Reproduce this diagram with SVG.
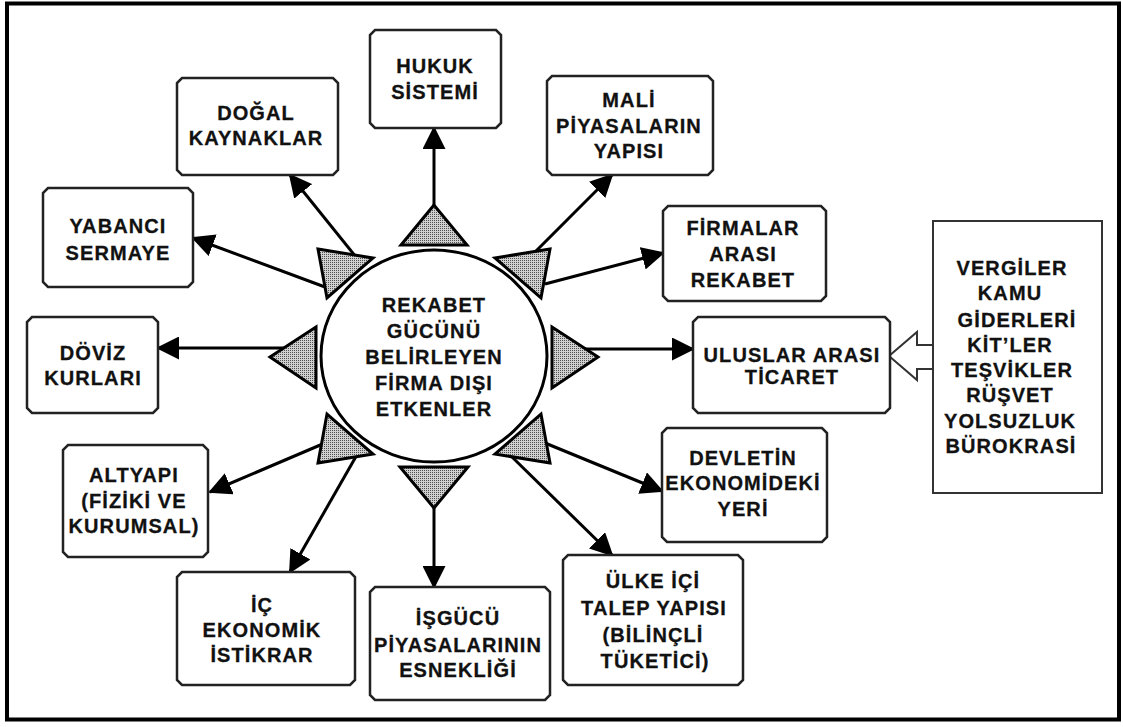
<svg xmlns="http://www.w3.org/2000/svg" width="1123" height="727" viewBox="0 0 1123 727">
<style>
.t{font-family:"Liberation Sans",Arial,sans-serif;font-weight:bold;font-size:20px;letter-spacing:1.1px;text-anchor:middle;fill:#111;stroke:#111;stroke-width:0.3}
.box{fill:#fff;stroke:#222;stroke-width:2.5}
.con{stroke:#000;stroke-width:3;fill:none;marker-end:url(#ah)}
.tri{fill:url(#dots);stroke:#000;stroke-width:3;stroke-linejoin:miter}
</style>
<defs>
<marker id="ah" markerUnits="userSpaceOnUse" viewBox="0 0 23 23" refX="21" refY="11.5" markerWidth="23" markerHeight="23" orient="auto">
<path d="M0,0 L23,11.5 L0,23 Z" fill="#000"/>
</marker>
<pattern id="dots" width="2" height="2" patternUnits="userSpaceOnUse">
<rect width="2" height="2" fill="#d0d0d0"/>
<rect width="1" height="1" fill="#505050"/>
</pattern>
</defs>
<rect x="7" y="3.5" width="1112" height="716" fill="#fff" stroke="#000" stroke-width="4"/>

<g id="connectors">
<line class="con" x1="434" y1="215" x2="434" y2="128"/>
<line class="con" x1="356" y1="257" x2="290" y2="175"/>
<line class="con" x1="325" y1="287" x2="193" y2="238"/>
<line class="con" x1="290" y1="348" x2="158" y2="348"/>
<line class="con" x1="325" y1="443" x2="210" y2="492"/>
<line class="con" x1="358" y1="453" x2="290" y2="572"/>
<line class="con" x1="434" y1="500" x2="434" y2="587"/>
<line class="con" x1="510" y1="455" x2="612" y2="555"/>
<line class="con" x1="545" y1="443" x2="662" y2="491"/>
<line class="con" x1="580" y1="349" x2="693" y2="349"/>
<line class="con" x1="545" y1="284" x2="663" y2="253"/>
<line class="con" x1="532" y1="255" x2="612" y2="175"/>
<polyline points="933,345 917,345 917,332 889,356 917,380 917,369 933,369" fill="#fff" stroke="#333" stroke-width="2"/>
</g>

<g id="triangles">
<polygon class="tri" points="434,205 401,245 467,245"/>
<polygon class="tri" points="400,467 468,467 434,508"/>
<polygon class="tri" points="270,357 316,327 316,388"/>
<polygon class="tri" points="598,357 552,327 552,388"/>
<polygon class="tri" points="318,249 373,258 327,298"/>
<polygon class="tri" points="550,249 495,258 541,298"/>
<polygon class="tri" points="318,463 373,454 327,414"/>
<polygon class="tri" points="550,463 495,454 541,414"/>
</g>

<g id="center">
<ellipse cx="434" cy="356" rx="113" ry="106" fill="#fff" stroke="#000" stroke-width="3"/>
<text class="t" x="434" y="312">REKABET</text>
<text class="t" x="434" y="338">GÜCÜNÜ</text>
<text class="t" x="434" y="364">BELİRLEYEN</text>
<text class="t" x="434" y="390">FİRMA DIŞI</text>
<text class="t" x="434" y="416">ETKENLER</text>
</g>

<g id="hukuk">
<path class="box" d="M375,30 H496 L501,35 V123 L496,128 H375 L370,123 V35 Z"/>
<text class="t" x="435" y="73">HUKUK</text>
<text class="t" x="435" y="99">SİSTEMİ</text>
</g>

<g id="dogal">
<path class="box" d="M182,78 H333 L338,83 V170 L333,175 H182 L177,170 V83 Z"/>
<text class="t" x="256" y="120">DOĞAL</text>
<text class="t" x="256" y="145">KAYNAKLAR</text>
</g>

<g id="mali">
<path class="box" d="M552,76 H708 L713,81 V170 L708,175 H552 L547,170 V81 Z"/>
<text class="t" x="629" y="107">MALİ</text>
<text class="t" x="629" y="133">PİYASALARIN</text>
<text class="t" x="629" y="158">YAPISI</text>
</g>

<g id="yabanci">
<path class="box" d="M48,188 H188 L193,193 V282 L188,287 H48 L43,282 V193 Z"/>
<text class="t" x="118" y="233">YABANCI</text>
<text class="t" x="118" y="260">SERMAYE</text>
</g>

<g id="doviz">
<path class="box" d="M32,317 H153 L158,322 V408 L153,413 H32 L27,408 V322 Z"/>
<text class="t" x="93" y="360">DÖVİZ</text>
<text class="t" x="93" y="385">KURLARI</text>
</g>

<g id="firmalar">
<path class="box" d="M668,206 H821 L826,211 V296 L821,301 H668 L663,296 V211 Z"/>
<text class="t" x="743" y="235">FİRMALAR</text>
<text class="t" x="743" y="261">ARASI</text>
<text class="t" x="743" y="287">REKABET</text>
</g>

<g id="uluslar">
<path class="box" d="M698,317 H885 L890,322 V408 L885,413 H698 L693,408 V322 Z"/>
<text class="t" x="792" y="362">ULUSLAR ARASI</text>
<text class="t" x="792" y="384">TİCARET</text>
</g>

<g id="devlet-mudahale">
<rect x="933" y="221" width="169" height="272" fill="#fff" stroke="#333" stroke-width="2"/>
<text class="t" x="1012" y="275">VERGİLER</text>
<text class="t" x="1010" y="300">KAMU</text>
<text class="t" x="1017" y="327">GİDERLERİ</text>
<text class="t" x="1010" y="352">KİT’LER</text>
<text class="t" x="1012" y="377">TEŞVİKLER</text>
<text class="t" x="1010" y="402">RÜŞVET</text>
<text class="t" x="1010" y="428">YOLSUZLUK</text>
<text class="t" x="1011" y="453">BÜROKRASİ</text>
</g>

<g id="devletin">
<path class="box" d="M667,428 H822 L827,433 V537 L822,542 H667 L662,537 V433 Z"/>
<text class="t" x="743" y="465">DEVLETİN</text>
<text class="t" x="743" y="490">EKONOMİDEKİ</text>
<text class="t" x="743" y="516">YERİ</text>
</g>

<g id="ulke">
<path class="box" d="M568,555 H738 L743,560 V680 L738,685 H568 L563,680 V560 Z"/>
<text class="t" x="653" y="588">ÜLKE İÇİ</text>
<text class="t" x="654" y="615">TALEP YAPISI</text>
<text class="t" x="653" y="642">(BİLİNÇLİ</text>
<text class="t" x="655" y="668">TÜKETİCİ)</text>
</g>

<g id="isgucu">
<path class="box" d="M375,587 H545 L550,592 V695 L545,700 H375 L370,695 V592 Z"/>
<text class="t" x="458" y="625">İŞGÜCÜ</text>
<text class="t" x="458" y="652">PİYASALARININ</text>
<text class="t" x="458" y="677">ESNEKLİĞİ</text>
</g>

<g id="ic">
<path class="box" d="M182,572 H350 L355,577 V680 L350,685 H182 L177,680 V577 Z"/>
<text class="t" x="262" y="612">İÇ</text>
<text class="t" x="262" y="637">EKONOMİK</text>
<text class="t" x="262" y="662">İSTİKRAR</text>
</g>

<g id="altyapi">
<path class="box" d="M68,445 H203 L208,450 V552 L203,557 H68 L63,552 V450 Z"/>
<text class="t" x="134" y="482">ALTYAPI</text>
<text class="t" x="134" y="508">(FİZİKİ VE</text>
<text class="t" x="134" y="533">KURUMSAL)</text>
</g>
</svg>
